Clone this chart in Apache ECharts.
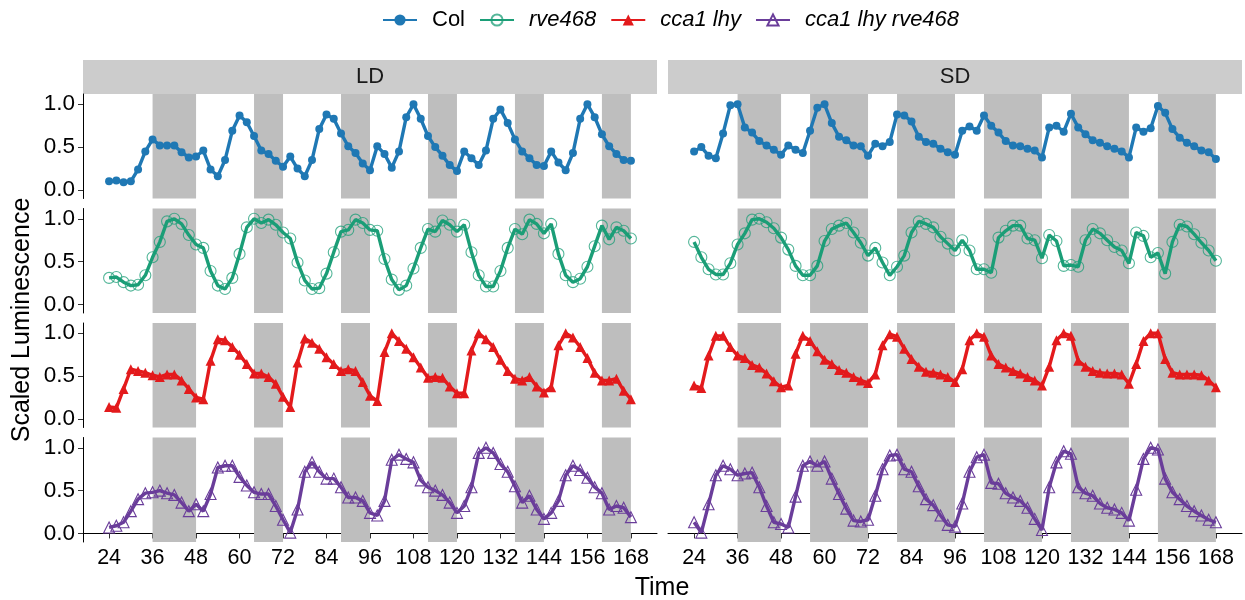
<!DOCTYPE html>
<html><head><meta charset="utf-8">
<script src="https://cdn.jsdelivr.net/npm/echarts@6/dist/echarts.min.js"></script>
<style>html,body{margin:0;padding:0;background:#fff}#c{width:1245px;height:600px}</style>
</head><body><div id="c"></div>
<script>
const times = [24,26,28,30,32,34,36,38,40,42,44,46,48,50,52,54,56,58,60,62,64,66,68,70,72,74,76,78,80,82,84,86,88,90,92,94,96,98,100,102,104,106,108,110,112,114,116,118,120,122,124,126,128,130,132,134,136,138,140,142,144,146,148,150,152,154,156,158,160,162,164,166,168];
const strains = ['Col','rve468','cca1 lhy','cca1 lhy rve468'];
const conditions = ['LD','SD'];
const nightsLD = [[36,48],[64,72],[88,96],[112,120],[136,144],[160,168]];
const nightsSD = [[36,48],[56,72],[80,96],[104,120],[128,144],[152,168]];
const xTicks = [24,36,48,60,72,84,96,108,120,132,144,156,168];
const yTicks = [0,0.5,1];

const colLD = [0.10,0.11,0.09,0.10,0.24,0.45, 0.59,0.52,0.52,0.52,0.44,0.38, 0.39,0.46,0.24,0.16,0.35,0.69, 0.87,0.79,0.63,0.46,0.42,0.34, 0.27,0.39,0.25,0.16,0.35,0.71, 0.88,0.83,0.66,0.51,0.43,0.31, 0.23,0.51,0.42,0.26,0.45,0.85, 1.00,0.83,0.63,0.50,0.40,0.29, 0.22,0.45,0.37,0.29,0.46,0.83, 0.94,0.78,0.59,0.45,0.37,0.29, 0.28,0.45,0.32,0.23,0.43,0.83, 1.00,0.85,0.65,0.51,0.42,0.35, 0.34];
const colSD = [0.45,0.50,0.40,0.37,0.66,0.99, 1.00,0.73,0.67,0.57,0.52,0.47, 0.41,0.52,0.47,0.43,0.69,0.96, 1.00,0.78,0.62,0.58,0.52,0.51, 0.40,0.54,0.51,0.56,0.88,0.87, 0.80,0.62,0.56,0.54,0.48,0.44, 0.41,0.69,0.74,0.69,0.87,0.75, 0.67,0.57,0.52,0.51,0.48,0.46, 0.38,0.73,0.75,0.68,0.89,0.73, 0.65,0.58,0.55,0.51,0.48,0.45, 0.38,0.73,0.68,0.72,0.98,0.90, 0.71,0.61,0.55,0.51,0.46,0.44, 0.36];
const rveLD = [0.31,0.32,0.26,0.22,0.23,0.34, 0.55,0.73,0.97,1.00,0.94,0.81, 0.70,0.66,0.39,0.22,0.18,0.31, 0.59,0.90,1.00,0.95,0.99,0.93, 0.84,0.77,0.49,0.28,0.18,0.19, 0.36,0.61,0.85,0.87,0.99,0.95, 0.87,0.86,0.53,0.29,0.17,0.22, 0.42,0.66,0.88,0.85,0.98,0.93, 0.85,0.93,0.61,0.34,0.21,0.21, 0.39,0.66,0.88,0.82,0.99,0.94, 0.83,0.94,0.59,0.34,0.26,0.30, 0.44,0.68,0.92,0.76,0.90,0.86, 0.77];
const rveSD = [0.73,0.55,0.41,0.35,0.35,0.48, 0.70,0.83,0.99,1.00,0.96,0.89, 0.78,0.64,0.45,0.34,0.34,0.45, 0.74,0.88,0.92,0.95,0.84,0.72, 0.57,0.66,0.49,0.34,0.44,0.57, 0.84,0.97,0.94,0.90,0.79,0.71, 0.63,0.75,0.63,0.41,0.41,0.37, 0.78,0.86,0.92,0.92,0.77,0.75, 0.54,0.81,0.74,0.45,0.46,0.44, 0.75,0.88,0.83,0.75,0.67,0.63, 0.48,0.84,0.80,0.55,0.60,0.36, 0.73,0.93,0.91,0.82,0.72,0.63, 0.51];
const ccaLD = [0.14,0.13,0.35,0.58,0.56,0.54, 0.51,0.49,0.52,0.52,0.45,0.35, 0.25,0.23,0.68,0.93,0.92,0.84, 0.75,0.64,0.53,0.53,0.49,0.41, 0.26,0.14,0.66,0.94,0.89,0.82, 0.72,0.64,0.56,0.58,0.56,0.43, 0.27,0.21,0.78,1.00,0.91,0.82, 0.72,0.60,0.48,0.49,0.48,0.38, 0.30,0.30,0.80,1.00,0.93,0.84, 0.69,0.56,0.47,0.45,0.49,0.38, 0.31,0.37,0.86,1.00,0.95,0.84, 0.71,0.54,0.45,0.45,0.47,0.33, 0.23];
const ccaSD = [0.39,0.36,0.74,0.97,0.97,0.84, 0.74,0.71,0.63,0.60,0.53,0.44, 0.37,0.39,0.76,0.97,0.91,0.79, 0.69,0.64,0.57,0.54,0.49,0.45, 0.42,0.52,0.86,0.99,0.96,0.82, 0.70,0.61,0.55,0.54,0.52,0.49, 0.43,0.58,0.92,1.00,0.96,0.74, 0.64,0.60,0.56,0.53,0.49,0.45, 0.39,0.61,0.92,1.00,0.97,0.68, 0.61,0.56,0.54,0.53,0.53,0.52, 0.41,0.64,0.91,1.00,1.00,0.70, 0.54,0.52,0.52,0.52,0.51,0.45, 0.37];
const dblLD = [0.07,0.09,0.13,0.26,0.40,0.47, 0.48,0.50,0.47,0.45,0.36,0.26, 0.34,0.26,0.46,0.77,0.79,0.79, 0.66,0.56,0.48,0.46,0.46,0.32, 0.16,0.01,0.28,0.72,0.83,0.72, 0.64,0.64,0.54,0.42,0.42,0.38, 0.24,0.21,0.38,0.86,0.92,0.87, 0.83,0.62,0.54,0.50,0.45,0.36, 0.24,0.32,0.54,0.94,1.00,0.94, 0.81,0.72,0.55,0.36,0.44,0.28, 0.17,0.24,0.38,0.68,0.79,0.74, 0.65,0.54,0.47,0.28,0.32,0.30, 0.19];
const dblSD = [0.13,0.01,0.34,0.68,0.79,0.75, 0.68,0.70,0.71,0.54,0.32,0.13, 0.11,0.07,0.43,0.79,0.84,0.79, 0.84,0.64,0.46,0.29,0.15,0.14, 0.16,0.44,0.75,0.91,0.92,0.75, 0.72,0.55,0.40,0.33,0.21,0.10, 0.08,0.35,0.72,0.89,0.92,0.59, 0.58,0.47,0.42,0.38,0.30,0.17, 0.04,0.54,0.83,0.96,0.93,0.54, 0.47,0.44,0.35,0.30,0.28,0.24, 0.15,0.51,0.87,1.00,0.98,0.64, 0.48,0.40,0.32,0.26,0.21,0.16, 0.13];

const values = [[colLD, colSD],[rveLD, rveSD],[ccaLD, ccaSD],[dblLD, dblSD]];
const nights = [nightsLD, nightsSD];

const FONT = 'Liberation Sans';
const styles = [
  {color:'#1F78B4', symbol:'circle', size:8, item:{color:'#1F78B4'}},
  {color:'#1B9E77', symbol:'circle', size:11, item:{color:'rgba(255,255,255,0)', borderColor:'rgba(27,158,119,0.75)', borderWidth:1.1}},
  {color:'#E31A1C', symbol:'triangle', size:10, item:{color:'#E31A1C'}},
  {color:'#6A3D9A', symbol:'triangle', size:11, item:{color:'rgba(255,255,255,0)', borderColor:'#6A3D9A', borderWidth:1.1}}
];

const colLeft = [83, 668], panelW = 574;
const rowTop = [94, 208.5, 323, 437.5], panelH = 104.5;

const grid = [], xAxis = [], yAxis = [], series = [];
for (let r = 0; r < 4; r++) {
  for (let c = 0; c < 2; c++) {
    const idx = r * 2 + c;
    grid.push({left: colLeft[c], top: rowTop[r], width: panelW, height: panelH});
    xAxis.push({
      type:'value', gridIndex: idx, min: 16.8, max: 175.2, show: r === 3,
      axisLine:{show:true, lineStyle:{color:'#000', width:1}},
      axisTick:{show:true, length:5, lineStyle:{color:'#333'}, customValues: xTicks},
      axisLabel:{customValues: xTicks, fontSize:21.5, color:'#000', margin:5, fontFamily: FONT},
      splitLine:{show:false}
    });
    yAxis.push({
      type:'value', gridIndex: idx, min: -0.1, max: 1.12, show: c === 0,
      axisLine:{show:true, lineStyle:{color:'#000', width:1}},
      axisTick:{show:true, length:5, lineStyle:{color:'#333'}, customValues: yTicks},
      axisLabel:{customValues: yTicks, formatter: v => v.toFixed(1), fontSize:22.5, color:'#000', margin:8, fontFamily: FONT},
      splitLine:{show:false}
    });
    series.push({
      type:'line', xAxisIndex: idx, yAxisIndex: idx, data: [], silent: true, z: 1,
      markArea:{silent:true, itemStyle:{color:'#BEBEBE'}, data: nights[c].map(n => [{xAxis:n[0]},{xAxis:n[1]}])}
    });
    const st = styles[r];
    series.push({
      type:'line', name: strains[r], xAxisIndex: idx, yAxisIndex: idx, z: 3,
      data: times.map((t, i) => [t, values[r][c][i]]),
      symbol: st.symbol, symbolSize: st.size, showSymbol: true,
      color: st.color,
      lineStyle:{color: st.color, width: 3.4},
      itemStyle: st.item,
      emphasis:{disabled:true}
    });
  }
}

const option = {
  animation: false,
  textStyle:{fontFamily: FONT},
  legend:{
    data: strains, top: 4, left: 377, itemWidth: 34, itemHeight: 14, itemGap: 14,
    textStyle:{fontSize:22, color:'#000', fontFamily: FONT, rich:{
      n:{fontSize:22, fontFamily: FONT, padding:[0,0,0,10]},
      i:{fontStyle:'italic', fontSize:22, fontFamily: FONT, padding:[0,0,0,10]}
    }},
    formatter: n => n === 'Col' ? '{n|' + n + '}' : '{i|' + n + '}'
  },
  grid, xAxis, yAxis, series,
  graphic: [
    {type:'rect', shape:{x:83, y:60, width:574, height:34}, style:{fill:'#CCCCCC'}},
    {type:'rect', shape:{x:668, y:60, width:574, height:34}, style:{fill:'#CCCCCC'}},
    {type:'text', x:370, y:77, style:{text: conditions[0], fontSize:22, fill:'#1A1A1A', align:'center', verticalAlign:'middle', fontFamily: FONT}},
    {type:'text', x:955, y:77, style:{text: conditions[1], fontSize:22, fill:'#1A1A1A', align:'center', verticalAlign:'middle', fontFamily: FONT}},
    {type:'text', x:22, y:320, rotation: Math.PI/2, style:{text:'Scaled Luminescence', fontSize:25, fill:'#000', align:'center', verticalAlign:'middle', fontFamily: FONT}},
    {type:'text', x:662, y:588, style:{text:'Time', fontSize:25, fill:'#000', align:'center', verticalAlign:'middle', fontFamily: FONT}}
  ]
};
const chart = echarts.init(document.getElementById('c'), null, {renderer:'canvas'});
chart.setOption(option);
</script>
</body></html>
